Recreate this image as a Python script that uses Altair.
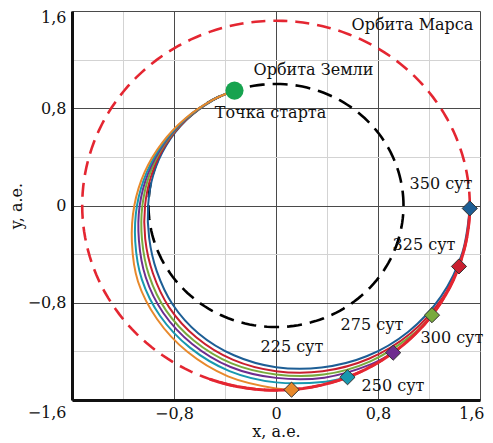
import altair as alt
import numpy as np
import pandas as pd

# ---------------- data ----------------
TICKS = [-1.6, -1.4, -1.2, -1.0, -0.8, -0.6, -0.4, -0.2, 0.0, 0.2, 0.4, 0.6, 0.8,
         1.0, 1.2, 1.4, 1.6]
MAJOR_TICKS = [-1.6, -0.8, 0.0, 0.8, 1.6]
MAJOR_LABELS = ["−1,6", "−0,8", "0", "0,8", "1,6"]

EARTH_R = 1.0
MARS_R = 1.52
START_ANGLE = 109.0

curve_names = ["350 сут", "325 сут", "300 сут", "275 сут", "250 сут", "225 сут"]
curve_colors = ["#1d5e95", "#c91f2f", "#79aa3d", "#6e2d8f", "#1898af", "#e8892c"]

base_theta = [109, 120, 135, 150, 165, 180, 195, 210, 225, 240, 255, 270, 285,
              300, 315, 330, 345]

theta_350 = base_theta[:17] + [359.1]
r_350 = [1.0, 0.997, 0.994, 0.993, 0.995, 1.003, 1.03, 1.08, 1.148, 1.215, 1.275,
         1.33, 1.38, 1.43, 1.468, 1.495, 1.512, 1.52]
theta_325 = base_theta[:16] + [340.75]
r_325 = [1.0, 0.998, 0.997, 1.0, 1.008, 1.027, 1.062, 1.115, 1.185, 1.252, 1.313,
         1.363, 1.412, 1.456, 1.49, 1.512, 1.52]
theta_300 = base_theta[:15] + [323.6]
r_300 = [1.0, 0.999, 1.0, 1.008, 1.023, 1.048, 1.088, 1.15, 1.22, 1.285, 1.345,
         1.39, 1.44, 1.48, 1.508, 1.52]
theta_275 = base_theta[:14] + [307.2]
r_275 = [1.0, 1.0, 1.003, 1.015, 1.037, 1.069, 1.113, 1.18, 1.25, 1.315, 1.375,
         1.418, 1.466, 1.505, 1.52]
theta_250 = base_theta[:13] + [291.65]
r_250 = [1.0, 1.0, 1.006, 1.022, 1.05, 1.09, 1.143, 1.215, 1.285, 1.35, 1.41,
         1.455, 1.5, 1.52]
theta_225 = base_theta[:12] + [274.6]
r_225 = [1.0, 1.0, 1.009, 1.031, 1.066, 1.111, 1.17, 1.25, 1.32, 1.39, 1.455,
         1.505, 1.52]

curve_thetas = [theta_350, theta_325, theta_300, theta_275, theta_250, theta_225]
curve_radii = [r_350, r_325, r_300, r_275, r_250, r_225]

MARS_ARC_FROM = 250.0
MARS_ARC_TO = 359.1

ann_text = ["Орбита Марса", "Орбита Земли", "Точка старта", "350 сут", "325 сут",
            "275 сут", "300 сут", "225 сут", "250 сут"]
ann_x = [1.07, 0.294, -0.043, 1.294, 1.161, 0.753, 1.38, 0.125, 0.918]
ann_y = [1.488, 1.118, 0.765, 0.173, -0.321, -0.982, -1.086, -1.168, -1.488]

# ---------------- build tables ----------------
def polar(theta_deg, r):
    t = np.radians(np.asarray(theta_deg, dtype=float))
    r = np.asarray(r, dtype=float)
    return r * np.cos(t), r * np.sin(t)

rows = []
for name, th, rr in zip(curve_names, curve_thetas, curve_radii):
    xs, ys = polar(th, rr)
    for i, (xx, yy) in enumerate(zip(xs, ys)):
        rows.append({"curve": name, "i": i, "x": xx, "y": yy})
traj = pd.DataFrame(rows)

ends = traj.sort_values("i").groupby("curve").tail(1).reset_index(drop=True)

orbit_angles = np.arange(0, 361, 2)
ex, ey = polar(orbit_angles, np.full(len(orbit_angles), EARTH_R))
mx, my = polar(orbit_angles, np.full(len(orbit_angles), MARS_R))
earth = pd.DataFrame({"i": range(len(ex)), "x": ex, "y": ey})
mars = pd.DataFrame({"i": range(len(mx)), "x": mx, "y": my})
arc_angles = np.linspace(MARS_ARC_FROM, MARS_ARC_TO, 40)
ax_, ay_ = polar(arc_angles, np.full(len(arc_angles), MARS_R))
mars_arc = pd.DataFrame({"i": range(len(ax_)), "x": ax_, "y": ay_})

sx, sy = polar([START_ANGLE], [EARTH_R])
start = pd.DataFrame({"x": sx, "y": sy})

ann = pd.DataFrame({"x": ann_x, "y": ann_y, "text": ann_text})

# ---------------- axes ----------------
FONT = "DejaVu Serif"

def label_expr(values, labels, skip=()):
    parts = []
    for v, l in zip(values, labels):
        if v in skip:
            continue
        parts.append(f"datum.value == {v} ? '{l}' : ")
    return "".join(parts) + "''"

major_test = "indexof([" + ",".join(str(v) for v in MAJOR_TICKS) + "], datum.value) >= 0"
grid_color = {"condition": {"test": major_test, "value": "#4a4a4a"}, "value": "#d3d3d3"}

xscale = alt.Scale(domain=[-1.6, 1.6], nice=False, zero=False)
yscale = alt.Scale(domain=[-1.6, 1.6], nice=False, zero=False)

x_axis = alt.Axis(values=TICKS, labelExpr=label_expr(MAJOR_TICKS, MAJOR_LABELS, skip=(-1.6,)),
                  grid=True, gridColor=grid_color, gridWidth=1, ticks=False,
                  domainColor="#111", domainWidth=3, labelFont=FONT, labelFontSize=16,
                  labelColor="#111", labelPadding=5, labelOverlap=False,
                  labelFlush=True, labelFlushOffset=4, labelBound=False,
                  title="x, а.е.", titleFont=FONT, titleFontSize=16, titleFontWeight="normal",
                  titleColor="#111", titleX=204, titleY=31, titleAlign="center",
                  titleBaseline="middle")
y_axis = alt.Axis(values=TICKS, labelExpr=label_expr(MAJOR_TICKS, MAJOR_LABELS),
                  grid=True, gridColor=grid_color, gridWidth=1, ticks=False,
                  domainColor="#111", domainWidth=3, labelFont=FONT, labelFontSize=16,
                  labelColor="#111", labelPadding=6, labelOverlap=False, labelFlush=False,
                  labelBound=False,
                  labelOffset={"condition": [{"test": "datum.value == -1.6", "value": 12},
                                             {"test": "datum.value == 1.6", "value": 6}],
                               "value": 0},
                  title="y, а.е.", titleFont=FONT, titleFontSize=16, titleFontWeight="normal",
                  titleColor="#111", titleX=-56, titleY=194.5, titleAlign="center",
                  titleBaseline="middle", titleAngle=270)

X = alt.X("x:Q", scale=xscale, axis=x_axis)
Y = alt.Y("y:Q", scale=yscale, axis=y_axis)
Xn = alt.X("x:Q", scale=xscale)
Yn = alt.Y("y:Q", scale=yscale)

color_scale = alt.Scale(domain=curve_names, range=curve_colors)

base_frame = alt.Chart(earth).mark_line(stroke="black", strokeWidth=2.6,
                                         strokeDash=[15, 8]).encode(
    x=X, y=Y, order="i:Q")
mars_layer = alt.Chart(mars).mark_line(stroke="#e42631", strokeWidth=2.6,
                                       strokeDash=[14, 8]).encode(
    x=Xn, y=Yn, order="i:Q")
traj_layer = alt.Chart(traj).mark_line(strokeWidth=2, interpolate="catmull-rom").encode(
    x=Xn, y=Yn, order="i:Q",
    detail="curve:N",
    color=alt.Color("curve:N", scale=color_scale, legend=None),
)
arc_layer = alt.Chart(mars_arc).mark_line(stroke="#e42631", strokeWidth=3).encode(
    x=Xn, y=Yn, order="i:Q")
end_layer = alt.Chart(ends).mark_point(shape="diamond", filled=True, size=230,
                                       stroke="#333333", strokeWidth=1, opacity=1).encode(
    x=Xn, y=Yn,
    fill=alt.Fill("curve:N", scale=color_scale, legend=None),
)
start_layer = alt.Chart(start).mark_point(shape="circle", filled=True, size=330,
                                          color="#17a34f", opacity=1).encode(x=Xn, y=Yn)
text_layer = alt.Chart(ann).mark_text(font=FONT, fontSize=16, color="#111",
                                      align="center", baseline="middle").encode(
    x=Xn, y=Yn, text="text:N")

# draw order of trajectories: blue first, orange last
traj_layers = []
for name in curve_names:
    traj_layers.append(traj_layer.transform_filter(alt.datum.curve == name))

chart = alt.layer(base_frame, mars_layer, *traj_layers, arc_layer, end_layer,
                  start_layer, text_layer).properties(
    width=408, height=389,
    autosize=alt.AutoSizeParams(type="none"),
    padding={"left": 64, "top": 3, "right": 5, "bottom": 43},
).configure_view(strokeWidth=0).configure(background="white")

chart.save("out.html", embed_options={"renderer": "svg", "actions": False})
